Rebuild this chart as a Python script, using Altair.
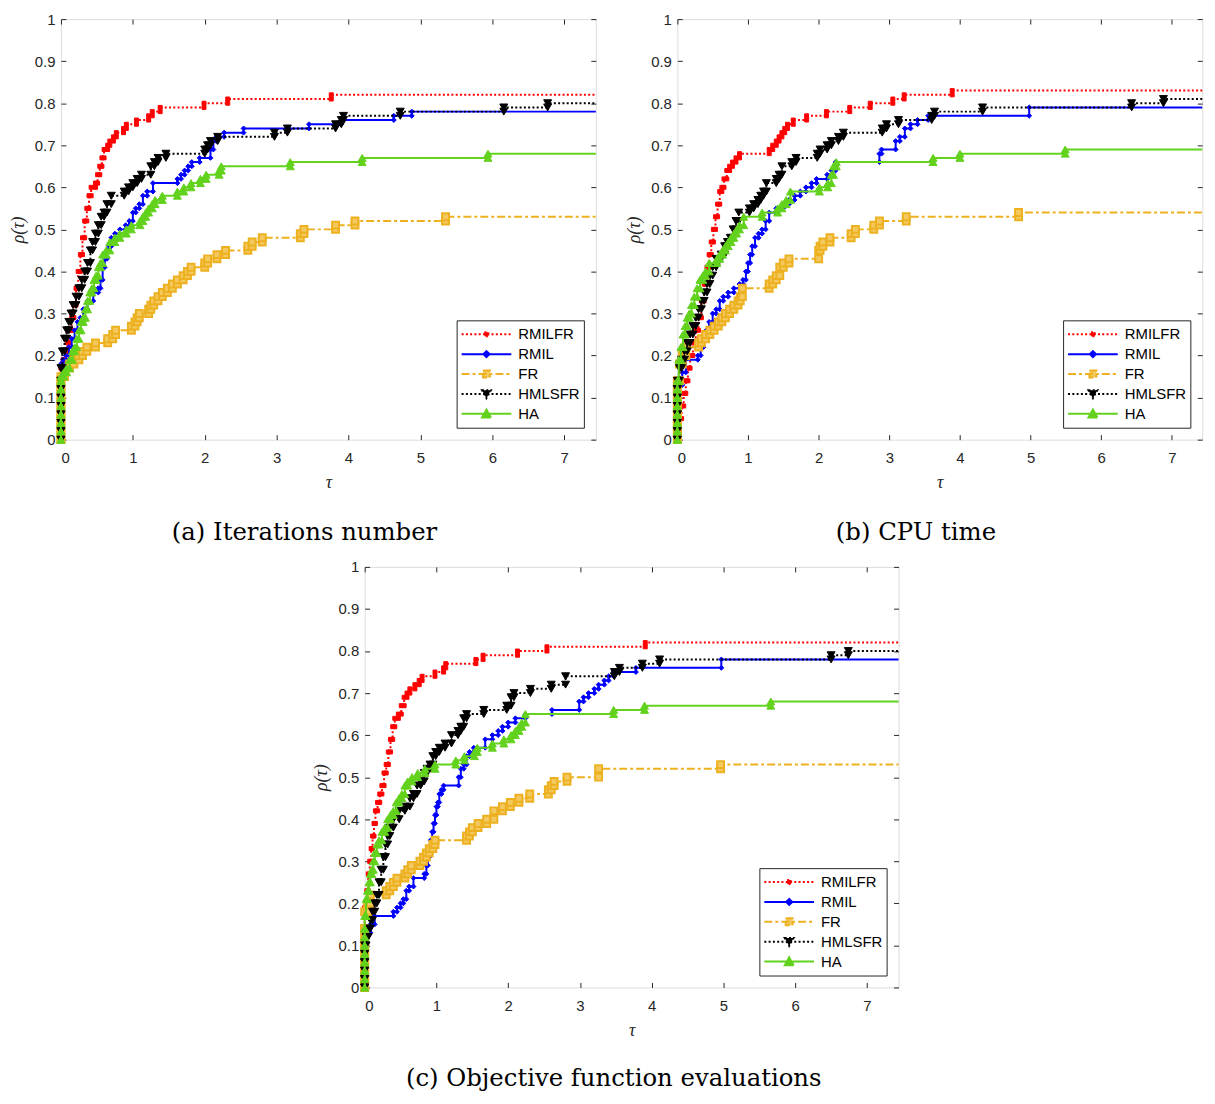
import altair as alt
import pandas as pd

# ---------------- series meta ----------------
NAMES = ["RMILFR", "RMIL", "FR", "HMLSFR", "HA"]
LINE_COLORS = ["#ff0000", "#0000ff", "#edb120", "#000000", "#62d21c"]
MARKER_FILLS = ["#ff0000", "#0000ff", "#f3c85e", "#000000", "#62d21c"]
MARKER_SHAPES = ["square", "diamond", "square", "triangle-down", "triangle-up"]
MARKER_SIZES = [16, 24, 48, 64, 64]
MARKER_STROKES = [1, 1, 2, 1, 1]
DASHES = [[2, 2.3], [1, 0], [8, 3, 3, 3], [2, 2.3], [1, 0]]
LEGEND_FILLS = ["#ff0000", "#0000ff", "#f3c85e", "#000000", "#62d21c"]
LEGEND_PATHS = [
    "M-1,0L1,0M-0.08,-0.08L0.08,-0.08L0.08,0.08L-0.08,0.08Z",
    "M-1,0L1,0M0,-0.12L0.12,0L0,0.12L-0.12,0Z",
    "M-1,0L1,0M-0.14,-0.14L0.14,-0.14L0.14,0.14L-0.14,0.14Z",
    "M-1,0L1,0M-0.18,-0.15L0.18,-0.15L0,0.17Z",
    "M-1,0L1,0M-0.18,0.15L0.18,0.15L0,-0.17Z",
]

X_TICKS = [0, 1, 2, 3, 4, 5, 6, 7]
Y_TICKS = [0, 0.1, 0.2, 0.3, 0.4, 0.5, 0.6, 0.7, 0.8, 0.9, 1]
ZERO_STACK = [0.0, 0.02, 0.04, 0.06, 0.08, 0.10, 0.12, 0.14]

CAPTIONS = ["(a) Iterations number", "(b) CPU time", "(c) Objective function evaluations"]
X_MAX = [7.44, 7.43, 7.44]

# ---------------- panel (a) ----------------
A_RMILFR_TAU = [0, 0.03, 0.06, 0.09, 0.12, 0.15, 0.18, 0.21, 0.24, 0.27, 0.30, 0.33, 0.36, 0.39, 0.42, 0.48, 0.51, 0.54, 0.57, 0.60, 0.65, 0.68, 0.73, 0.77, 0.87, 0.91, 1.05, 1.22, 1.27, 1.38, 1.99, 2.32, 3.76]
A_RMILFR_RHO = [0.17, 0.19, 0.21, 0.23, 0.26, 0.29, 0.32, 0.36, 0.40, 0.44, 0.48, 0.52, 0.55, 0.58, 0.60, 0.61, 0.63, 0.65, 0.67, 0.69, 0.70, 0.71, 0.72, 0.73, 0.74, 0.75, 0.76, 0.77, 0.78, 0.79, 0.80, 0.81, 0.82]
A_RMIL_TAU = [0, 0.03, 0.07, 0.11, 0.15, 0.19, 0.23, 0.27, 0.31, 0.37, 0.45, 0.52, 0.55, 0.58, 0.61, 0.64, 0.67, 0.70, 0.75, 0.82, 0.90, 0.95, 1.00, 1.04, 1.09, 1.14, 1.20, 1.28, 1.62, 1.67, 1.72, 1.77, 1.82, 1.93, 2.08, 2.12, 2.16, 2.27, 2.54, 3.45, 3.90, 4.63, 4.88]
A_RMIL_RHO = [0.18, 0.19, 0.20, 0.22, 0.24, 0.26, 0.28, 0.29, 0.31, 0.33, 0.35, 0.36, 0.38, 0.41, 0.43, 0.45, 0.46, 0.48, 0.49, 0.50, 0.51, 0.52, 0.54, 0.55, 0.56, 0.58, 0.59, 0.61, 0.62, 0.63, 0.64, 0.65, 0.66, 0.67, 0.69, 0.71, 0.72, 0.73, 0.74, 0.75, 0.76, 0.77, 0.78]
A_FR_TAU = [0, 0.05, 0.12, 0.18, 0.25, 0.30, 0.36, 0.48, 0.65, 0.72, 0.76, 0.98, 1.03, 1.06, 1.09, 1.22, 1.25, 1.29, 1.35, 1.41, 1.48, 1.55, 1.62, 1.70, 1.76, 1.81, 2.00, 2.04, 2.17, 2.29, 2.60, 2.66, 2.80, 3.33, 3.38, 3.82, 4.09, 5.35]
A_FR_RHO = [0.15, 0.17, 0.18, 0.19, 0.20, 0.21, 0.22, 0.23, 0.24, 0.25, 0.26, 0.27, 0.28, 0.29, 0.30, 0.31, 0.32, 0.33, 0.34, 0.35, 0.36, 0.37, 0.38, 0.39, 0.40, 0.41, 0.42, 0.43, 0.44, 0.45, 0.46, 0.47, 0.48, 0.49, 0.50, 0.51, 0.52, 0.53]
A_HMLSFR_TAU = [0, 0.02, 0.05, 0.08, 0.11, 0.14, 0.17, 0.21, 0.25, 0.29, 0.33, 0.37, 0.41, 0.44, 0.48, 0.52, 0.56, 0.60, 0.64, 0.70, 0.88, 0.94, 1.00, 1.06, 1.12, 1.25, 1.30, 1.35, 1.46, 2.00, 2.04, 2.08, 2.18, 2.97, 3.15, 3.82, 3.90, 3.93, 4.72, 6.16, 6.77]
A_HMLSFR_RHO = [0.17, 0.21, 0.24, 0.26, 0.28, 0.30, 0.32, 0.34, 0.36, 0.38, 0.40, 0.42, 0.45, 0.47, 0.49, 0.51, 0.53, 0.54, 0.56, 0.58, 0.59, 0.60, 0.61, 0.62, 0.63, 0.65, 0.66, 0.67, 0.68, 0.69, 0.70, 0.71, 0.72, 0.73, 0.74, 0.75, 0.76, 0.77, 0.78, 0.79, 0.80]
A_HA_TAU = [0, 0.04, 0.08, 0.12, 0.16, 0.19, 0.22, 0.25, 0.28, 0.31, 0.34, 0.37, 0.40, 0.43, 0.46, 0.49, 0.52, 0.55, 0.58, 0.63, 0.68, 0.75, 0.82, 0.91, 0.98, 1.10, 1.14, 1.18, 1.22, 1.27, 1.31, 1.41, 1.62, 1.71, 1.81, 1.94, 2.02, 2.20, 2.23, 3.19, 4.19, 5.94]
A_HA_RHO = [0.15, 0.16, 0.17, 0.19, 0.21, 0.22, 0.24, 0.26, 0.28, 0.29, 0.31, 0.33, 0.35, 0.36, 0.38, 0.39, 0.41, 0.42, 0.44, 0.45, 0.47, 0.48, 0.49, 0.50, 0.51, 0.52, 0.53, 0.54, 0.55, 0.56, 0.57, 0.58, 0.59, 0.60, 0.61, 0.62, 0.63, 0.64, 0.65, 0.66, 0.67, 0.68]

# ---------------- panel (b) ----------------
B_RMILFR_TAU = [0, 0.03, 0.06, 0.09, 0.12, 0.15, 0.18, 0.22, 0.26, 0.30, 0.34, 0.38, 0.42, 0.45, 0.48, 0.51, 0.54, 0.57, 0.60, 0.63, 0.66, 0.70, 0.74, 0.78, 0.83, 0.88, 1.30, 1.35, 1.40, 1.44, 1.48, 1.52, 1.56, 1.64, 1.83, 2.11, 2.44, 2.73, 3.05, 3.21, 3.89]
B_RMILFR_RHO = [0.02, 0.05, 0.08, 0.11, 0.14, 0.17, 0.20, 0.23, 0.26, 0.29, 0.33, 0.37, 0.41, 0.44, 0.47, 0.50, 0.53, 0.56, 0.59, 0.60, 0.62, 0.64, 0.65, 0.66, 0.67, 0.68, 0.69, 0.70, 0.71, 0.72, 0.73, 0.74, 0.75, 0.76, 0.77, 0.78, 0.79, 0.80, 0.81, 0.82, 0.83]
B_RMIL_TAU = [0, 0.03, 0.07, 0.12, 0.29, 0.33, 0.37, 0.41, 0.45, 0.50, 0.55, 0.60, 0.65, 0.72, 0.80, 0.88, 0.93, 0.97, 1.00, 1.03, 1.06, 1.10, 1.15, 1.20, 1.25, 1.30, 1.40, 1.50, 1.58, 1.66, 1.74, 1.82, 1.90, 1.97, 2.12, 2.18, 2.24, 2.86, 2.89, 3.09, 3.15, 3.22, 3.30, 3.40, 3.55, 4.98]
B_RMIL_RHO = [0.10, 0.13, 0.16, 0.19, 0.20, 0.22, 0.24, 0.26, 0.28, 0.30, 0.31, 0.33, 0.34, 0.35, 0.36, 0.37, 0.38, 0.40, 0.42, 0.44, 0.46, 0.48, 0.49, 0.50, 0.52, 0.54, 0.55, 0.56, 0.57, 0.58, 0.59, 0.60, 0.61, 0.62, 0.63, 0.64, 0.66, 0.68, 0.69, 0.71, 0.72, 0.74, 0.75, 0.76, 0.77, 0.79]
B_FR_TAU = [0, 0.03, 0.07, 0.12, 0.30, 0.34, 0.40, 0.46, 0.52, 0.58, 0.63, 0.68, 0.74, 0.80, 0.86, 0.89, 0.92, 1.30, 1.35, 1.40, 1.45, 1.50, 1.58, 2.00, 2.02, 2.06, 2.16, 2.46, 2.52, 2.78, 2.86, 3.24, 4.83]
B_FR_RHO = [0.14, 0.18, 0.20, 0.22, 0.23, 0.24, 0.25, 0.26, 0.27, 0.28, 0.29, 0.30, 0.31, 0.32, 0.33, 0.34, 0.36, 0.37, 0.38, 0.39, 0.41, 0.42, 0.43, 0.45, 0.46, 0.47, 0.48, 0.49, 0.50, 0.51, 0.52, 0.53, 0.54]
B_HMLSFR_TAU = [0, 0.03, 0.06, 0.10, 0.14, 0.18, 0.22, 0.26, 0.30, 0.34, 0.38, 0.42, 0.46, 0.50, 0.55, 0.62, 0.67, 0.71, 0.75, 0.79, 0.83, 0.87, 1.02, 1.08, 1.14, 1.18, 1.22, 1.26, 1.40, 1.44, 1.48, 1.62, 1.68, 1.98, 2.02, 2.12, 2.18, 2.28, 2.35, 2.90, 2.96, 3.13, 3.60, 3.64, 4.32, 6.43, 6.88]
B_HMLSFR_RHO = [0.14, 0.17, 0.19, 0.21, 0.23, 0.25, 0.27, 0.29, 0.31, 0.33, 0.35, 0.37, 0.39, 0.41, 0.43, 0.44, 0.46, 0.47, 0.48, 0.50, 0.52, 0.54, 0.55, 0.56, 0.57, 0.58, 0.59, 0.61, 0.62, 0.63, 0.65, 0.66, 0.67, 0.68, 0.69, 0.70, 0.71, 0.72, 0.73, 0.74, 0.75, 0.76, 0.77, 0.78, 0.79, 0.80, 0.81]
B_HA_TAU = [0, 0.02, 0.05, 0.08, 0.11, 0.14, 0.17, 0.20, 0.24, 0.28, 0.32, 0.36, 0.40, 0.45, 0.56, 0.60, 0.64, 0.68, 0.72, 0.76, 0.80, 0.84, 0.88, 0.94, 1.20, 1.42, 1.48, 1.54, 1.60, 2.01, 2.13, 2.18, 2.21, 2.25, 3.62, 4.00, 5.49]
B_HA_RHO = [0.14, 0.19, 0.22, 0.25, 0.27, 0.29, 0.30, 0.32, 0.34, 0.36, 0.38, 0.39, 0.40, 0.42, 0.43, 0.44, 0.45, 0.46, 0.47, 0.48, 0.49, 0.50, 0.51, 0.53, 0.54, 0.55, 0.56, 0.57, 0.59, 0.60, 0.61, 0.63, 0.65, 0.66, 0.67, 0.68, 0.69]

# ---------------- panel (c) ----------------
C_RMILFR_TAU = [0, 0.03, 0.05, 0.07, 0.09, 0.11, 0.13, 0.15, 0.18, 0.21, 0.24, 0.27, 0.30, 0.33, 0.36, 0.39, 0.42, 0.47, 0.51, 0.55, 0.59, 0.63, 0.70, 0.76, 0.80, 0.98, 1.10, 1.13, 1.55, 1.65, 2.13, 2.54, 3.91]
C_RMILFR_RHO = [0.19, 0.23, 0.27, 0.30, 0.33, 0.36, 0.39, 0.42, 0.44, 0.46, 0.48, 0.51, 0.53, 0.56, 0.59, 0.62, 0.64, 0.65, 0.67, 0.69, 0.70, 0.71, 0.72, 0.73, 0.74, 0.75, 0.76, 0.77, 0.78, 0.79, 0.80, 0.81, 0.82]
C_RMIL_TAU = [0, 0.03, 0.08, 0.14, 0.40, 0.45, 0.50, 0.54, 0.58, 0.62, 0.68, 0.83, 0.86, 0.88, 0.90, 0.92, 0.94, 0.96, 0.98, 1.00, 1.02, 1.04, 1.07, 1.10, 1.31, 1.34, 1.38, 1.42, 1.46, 1.52, 1.68, 1.78, 1.86, 1.92, 2.00, 2.10, 2.24, 2.61, 2.99, 3.05, 3.12, 3.20, 3.26, 3.34, 3.40, 3.47, 3.78, 4.97]
C_RMIL_RHO = [0.11, 0.13, 0.15, 0.17, 0.18, 0.19, 0.20, 0.21, 0.23, 0.24, 0.26, 0.27, 0.29, 0.31, 0.33, 0.35, 0.37, 0.39, 0.41, 0.43, 0.44, 0.46, 0.47, 0.48, 0.50, 0.52, 0.53, 0.55, 0.56, 0.57, 0.59, 0.60, 0.61, 0.62, 0.63, 0.64, 0.65, 0.66, 0.68, 0.69, 0.70, 0.71, 0.72, 0.73, 0.74, 0.75, 0.76, 0.78]
C_FR_TAU = [0, 0.04, 0.08, 0.30, 0.35, 0.40, 0.45, 0.56, 0.60, 0.65, 0.77, 0.82, 0.86, 0.90, 0.95, 0.98, 1.42, 1.46, 1.50, 1.58, 1.70, 1.80, 1.92, 2.03, 2.15, 2.30, 2.56, 2.60, 2.64, 2.82, 3.26, 4.96]
C_FR_RHO = [0.18, 0.20, 0.22, 0.23, 0.24, 0.25, 0.26, 0.27, 0.28, 0.29, 0.30, 0.31, 0.32, 0.33, 0.34, 0.35, 0.36, 0.37, 0.38, 0.39, 0.40, 0.42, 0.43, 0.44, 0.45, 0.46, 0.47, 0.48, 0.49, 0.50, 0.52, 0.53]
C_HMLSFR_TAU = [0, 0.02, 0.05, 0.08, 0.11, 0.14, 0.17, 0.20, 0.23, 0.26, 0.29, 0.32, 0.35, 0.40, 0.48, 0.56, 0.63, 0.68, 0.73, 0.78, 0.83, 0.87, 0.91, 0.95, 0.99, 1.04, 1.12, 1.21, 1.30, 1.34, 1.38, 1.42, 1.66, 1.98, 2.04, 2.08, 2.31, 2.60, 2.80, 3.48, 3.55, 3.87, 4.11, 6.50, 6.74]
C_HMLSFR_RHO = [0.10, 0.12, 0.14, 0.16, 0.18, 0.20, 0.22, 0.25, 0.28, 0.31, 0.34, 0.36, 0.38, 0.40, 0.42, 0.43, 0.45, 0.46, 0.48, 0.49, 0.51, 0.52, 0.53, 0.55, 0.56, 0.57, 0.58, 0.60, 0.61, 0.62, 0.64, 0.65, 0.66, 0.67, 0.69, 0.70, 0.71, 0.72, 0.74, 0.75, 0.76, 0.77, 0.78, 0.79, 0.80]
C_HA_TAU = [0, 0.02, 0.04, 0.06, 0.08, 0.10, 0.12, 0.14, 0.17, 0.20, 0.24, 0.28, 0.32, 0.36, 0.40, 0.44, 0.48, 0.52, 0.56, 0.60, 0.66, 0.74, 0.84, 0.98, 1.27, 1.39, 1.53, 1.57, 1.78, 1.94, 2.04, 2.10, 2.15, 2.19, 2.24, 3.47, 3.90, 5.66]
C_HA_RHO = [0.17, 0.21, 0.23, 0.25, 0.27, 0.28, 0.30, 0.32, 0.34, 0.35, 0.37, 0.38, 0.40, 0.41, 0.42, 0.44, 0.45, 0.46, 0.48, 0.49, 0.50, 0.51, 0.52, 0.53, 0.54, 0.55, 0.56, 0.57, 0.58, 0.59, 0.60, 0.61, 0.62, 0.63, 0.65, 0.66, 0.67, 0.68]

PANELS = [
    [(A_RMILFR_TAU, A_RMILFR_RHO), (A_RMIL_TAU, A_RMIL_RHO), (A_FR_TAU, A_FR_RHO), (A_HMLSFR_TAU, A_HMLSFR_RHO), (A_HA_TAU, A_HA_RHO)],
    [(B_RMILFR_TAU, B_RMILFR_RHO), (B_RMIL_TAU, B_RMIL_RHO), (B_FR_TAU, B_FR_RHO), (B_HMLSFR_TAU, B_HMLSFR_RHO), (B_HA_TAU, B_HA_RHO)],
    [(C_RMILFR_TAU, C_RMILFR_RHO), (C_RMIL_TAU, C_RMIL_RHO), (C_FR_TAU, C_FR_RHO), (C_HMLSFR_TAU, C_HMLSFR_RHO), (C_HA_TAU, C_HA_RHO)],
]

# ---------------- styling ----------------
INK = "#262626"
SANS = "Liberation Sans"
SERIF = "Liberation Serif"
PLOT_H = 423
PLOT_W = [538, 528, 537]
CAPTION_OFFSET = [30, 30, 28]
CAPTION_DX = [0, 0, 6]

AX_X_LABEL = alt.Axis(orient="bottom", values=X_TICKS, format="d", ticks=False, tickSize=0,
                      domain=False, grid=False, labelPadding=11, labelFont=SANS, labelFontSize=15,
                      labelColor=INK, title="τ", titleFont=SERIF, titleFontStyle="italic",
                      titleFontWeight="normal", titleFontSize=18, titleColor=INK, titlePadding=8,
                      minExtent=0, maxExtent=200)
AX_Y_LABEL = alt.Axis(orient="left", values=Y_TICKS, format="~g", ticks=False, tickSize=0,
                      domain=False, grid=False, labelPadding=6, labelFont=SANS, labelFontSize=15,
                      labelColor=INK, title="ρ(τ)", titleFont=SERIF, titleFontStyle="italic",
                      titleFontWeight="normal", titleFontSize=18, titleColor=INK, titlePadding=7,
                      minExtent=27, maxExtent=27)


def tick_axis(orient, values):
    # inward-pointing ticks (MATLAB box style), no labels
    return alt.Axis(orient=orient, values=values, labels=False, domain=False, grid=False,
                    ticks=True, tickSize=alt.ExprRef(expr="-5"), tickColor=INK, tickWidth=1,
                    title=None, minExtent=0, maxExtent=0)


LEG = alt.Legend(title=None, orient="bottom-right", offset=12, padding=4, strokeColor=INK,
                 fillColor="white", symbolSize=2500, symbolStrokeWidth=2, labelFont=SANS,
                 labelFontSize=15, labelColor="#000000", labelOffset=6, clipHeight=20,
                 rowPadding=0, symbolOpacity=1, labelLimit=300)


def step_frames(tau, rho, xmax):
    pre = [v for v in ZERO_STACK if v < rho[0]]
    t = [0.0] * len(pre) + list(tau)
    r = pre + list(rho)
    line = pd.DataFrame({"tau": t + [xmax], "rho": r + [r[-1]]})
    pt, pr = [t[0]], [r[0]]
    for i in range(1, len(t)):
        pt += [t[i], t[i]]
        pr += [r[i - 1], r[i]]
    return line, pd.DataFrame({"tau": pt, "rho": pr})


def build_panel(idx):
    xmax = X_MAX[idx]
    xs = alt.Scale(domain=[0, xmax], nice=False, zero=False)
    ys = alt.Scale(domain=[0, 1], nice=False, zero=False)
    layers = []
    for k, (tau, rho) in enumerate(PANELS[idx]):
        line_df, pts_df = step_frames(tau, rho, xmax)
        xa, ya = (AX_X_LABEL, AX_Y_LABEL) if k == 0 else (None, None)
        kw = dict(interpolate="step-after", color=LINE_COLORS[k], strokeWidth=2)
        if DASHES[k] != [1, 0]:
            kw["strokeDash"] = DASHES[k]
        layers.append(alt.Chart(line_df).mark_line(**kw).encode(
            x=alt.X("tau:Q", scale=xs, axis=xa), y=alt.Y("rho:Q", scale=ys, axis=ya)))
        if k == 0:
            xa, ya = tick_axis("bottom", X_TICKS), tick_axis("left", Y_TICKS)
        else:
            xa, ya = None, None
        layers.append(alt.Chart(pts_df).mark_point(
            shape=MARKER_SHAPES[k], size=MARKER_SIZES[k], filled=True, fill=MARKER_FILLS[k],
            stroke=LINE_COLORS[k], strokeWidth=MARKER_STROKES[k], opacity=1).encode(
            x=alt.X("tau:Q", scale=xs, axis=xa), y=alt.Y("rho:Q", scale=ys, axis=ya)))
    leg_df = pd.DataFrame({"solver": NAMES, "tau": [0.0] * 5, "rho": [0.0] * 5})
    legend_layer = alt.Chart(leg_df).mark_point(filled=False, opacity=1).encode(
        x=alt.X("tau:Q", scale=xs, axis=tick_axis("top", X_TICKS)),
        y=alt.Y("rho:Q", scale=ys, axis=tick_axis("right", Y_TICKS)),
        stroke=alt.Stroke("solver:N", scale=alt.Scale(domain=NAMES, range=LINE_COLORS), legend=LEG),
        fill=alt.Fill("solver:N", scale=alt.Scale(domain=NAMES, range=LEGEND_FILLS), legend=LEG),
        shape=alt.Shape("solver:N", scale=alt.Scale(domain=NAMES, range=LEGEND_PATHS), legend=LEG),
        strokeDash=alt.StrokeDash("solver:N", scale=alt.Scale(domain=NAMES, range=DASHES), legend=LEG),
    ).transform_filter("false")
    layers.append(legend_layer)
    return alt.layer(*layers).resolve_axis(x="independent", y="independent").properties(
        width=PLOT_W[idx], height=PLOT_H,
        title=alt.TitleParams(text=CAPTIONS[idx], orient="bottom", anchor="middle", frame="bounds",
                              font="DejaVu Serif", fontSize=24.5, fontWeight="normal",
                              color="#000000", offset=CAPTION_OFFSET[idx], dx=CAPTION_DX[idx]))


IND = dict(stroke="independent", fill="independent", shape="independent", strokeDash="independent")
row1 = alt.hconcat(build_panel(0), build_panel(1), spacing=24).resolve_scale(**IND)
chart = alt.vconcat(row1, build_panel(2), spacing=14, center=True).resolve_scale(**IND).properties(
    padding={"left": 0, "top": 0, "right": 0, "bottom": 0}
).configure_view(stroke=INK, strokeWidth=1).configure(background="white")

chart.save("out.html", embed_options={"renderer": "svg", "actions": False})
